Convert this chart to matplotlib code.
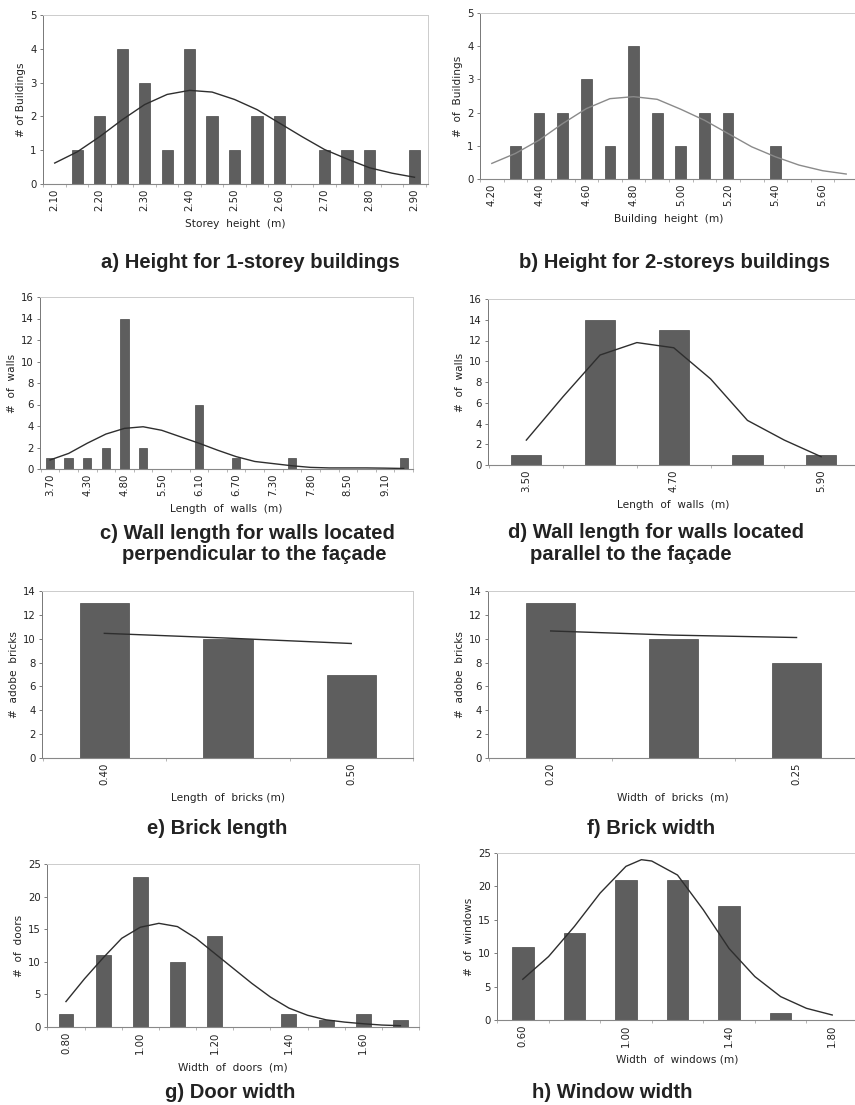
import matplotlib
matplotlib.use("Agg")
import matplotlib.pyplot as plt
import numpy as np

W, H = 855, 1105

# ---------------- data ----------------
# a) storey height, 1-storey buildings
a_cats = ["2.10", "2.15", "2.20", "2.25", "2.30", "2.35", "2.40", "2.45", "2.50",
          "2.55", "2.60", "2.65", "2.70", "2.75", "2.80", "2.85", "2.90"]
a_counts = [0, 1, 2, 4, 3, 1, 4, 2, 1, 2, 2, 0, 1, 1, 1, 0, 1]
a_fit = [0.62, 0.95, 1.4, 1.9, 2.35, 2.65, 2.77, 2.72, 2.5, 2.2, 1.8, 1.4, 1.02,
         0.74, 0.48, 0.32, 0.2]

# b) building height, 2-storey buildings
b_cats = ["4.20", "4.30", "4.40", "4.50", "4.60", "4.70", "4.80", "4.90", "5.00",
          "5.10", "5.20", "5.30", "5.40", "5.50", "5.60", "5.70"]
b_counts = [0, 1, 2, 2, 3, 1, 4, 2, 1, 2, 2, 0, 1, 0, 0, 0]
b_fit = [0.47, 0.77, 1.17, 1.67, 2.12, 2.42, 2.48, 2.4, 2.1, 1.77, 1.37, 0.97,
         0.67, 0.42, 0.25, 0.15]

# c) wall length, perpendicular walls
c_cats = ["3.70", "4.00", "4.30", "4.55", "4.80", "5.15", "5.50", "5.80", "6.10",
          "6.40", "6.70", "7.00", "7.30", "7.55", "7.80", "8.15", "8.50", "8.80",
          "9.10", "9.40"]
c_counts = [1, 1, 1, 2, 14, 2, 0, 0, 6, 0, 1, 0, 0, 1, 0, 0, 0, 0, 0, 1]
c_fit = [0.84, 1.45, 2.4, 3.25, 3.78, 3.93, 3.6, 3.0, 2.4, 1.75, 1.15, 0.7, 0.5,
         0.3, 0.15, 0.1, 0.1, 0.1, 0.08, 0.05]

# d) wall length, parallel walls
d_cats = ["3.50", "4.10", "4.70", "5.30", "5.90"]
d_counts = [1, 14, 13, 1, 1]
d_fit_pos = [0, 0.5, 1, 1.5, 2, 2.5, 3, 3.5, 4]
d_fit = [2.4, 6.6, 10.6, 11.8, 11.3, 8.3, 4.3, 2.4, 0.8]

# e) brick length
e_cats = ["0.40", "0.45", "0.50"]
e_counts = [13, 10, 7]
e_fit = [10.45, 10.05, 9.6]

# f) brick width
f_cats = ["0.20", "0.225", "0.25"]
f_counts = [13, 10, 8]
f_fit = [10.65, 10.3, 10.1]

# g) door width
g_cats = ["0.80", "0.90", "1.00", "1.10", "1.20", "1.30", "1.40", "1.50", "1.60", "1.70"]
g_counts = [2, 11, 23, 10, 14, 0, 2, 1, 2, 1]
g_fit_pos = [0, 0.5, 1, 1.5, 2, 2.5, 3, 3.5, 4, 4.5, 5, 5.5, 6, 6.5, 7, 7.5, 8, 8.5, 9]
g_fit = [3.9, 7.4, 10.6, 13.6, 15.3, 15.9, 15.4, 13.6, 11.3, 9.0, 6.7, 4.6, 2.9,
         1.8, 1.1, 0.75, 0.5, 0.3, 0.2]

# h) window width
h_cats = ["0.60", "0.80", "1.00", "1.20", "1.40", "1.60", "1.80"]
h_counts = [11, 13, 21, 21, 17, 1, 0]
h_fit_pos = [0, 0.5, 1, 1.5, 2, 2.3, 2.5, 3, 3.5, 4, 4.5, 5, 5.5, 6]
h_fit = [6.1, 9.5, 14.0, 19.0, 23.0, 24.0, 23.8, 21.7, 16.5, 10.7, 6.5, 3.5, 1.75, 0.75]

# ---------------- style ----------------
BAR = "#5e5e5e"
EDGE = "#474747"
TXT = "#222222"
TICKFS = 7.3
LABFS = 7.6
TITLEFS = 14.6
TITLEFONT = ["Liberation Sans", "DejaVu Sans"]

fig = plt.figure(figsize=(W / 100, H / 100), dpi=100)
fig.patch.set_facecolor("white")


def px_axes(left, top, right, bottom):
    return fig.add_axes([left / W, 1 - bottom / H, (right - left) / W, (bottom - top) / H])


def panel(rect, cats, counts, fit, fit_pos, width, xlim, ymax, ystep, xlabel, ylabel,
          label_every=2, line_color="#2e2e2e", lw=1.0):
    ax = px_axes(*rect)
    x = np.arange(len(cats))
    ax.bar(x, counts, width=width, color=BAR, edgecolor=EDGE, linewidth=0.5, zorder=2)
    fx = x if fit_pos is None else np.array(fit_pos)
    ax.plot(fx, fit, color=line_color, linewidth=lw, zorder=3)
    ax.set_xlim(*xlim)
    ax.set_ylim(0, ymax)
    yt = np.arange(0, ymax + 0.001, ystep)
    ax.set_yticks(yt)
    ax.set_yticklabels([f"{v:g}" for v in yt], fontsize=TICKFS, color=TXT)
    ticks = x[::label_every]
    ax.set_xticks(ticks)
    ax.set_xticklabels([cats[i] for i in ticks], rotation=90, fontsize=TICKFS,
                       color=TXT, va="top")
    ax.set_xticks(np.arange(-0.5, len(cats), 1.0), minor=True)
    ax.tick_params(axis="x", which="major", length=0, pad=3)
    ax.tick_params(axis="x", which="minor", length=2, color="#aaaaaa", width=0.6)
    ax.tick_params(axis="y", length=2.5, width=0.6, color="#666666", pad=2)
    for s in ["top", "right"]:
        ax.spines[s].set_color("#cccccc")
        ax.spines[s].set_linewidth(0.7)
    ax.spines["left"].set_color("#777777")
    ax.spines["left"].set_linewidth(0.7)
    ax.spines["bottom"].set_color("#888888")
    ax.spines["bottom"].set_linewidth(0.8)
    ax.set_xlabel(xlabel, fontsize=LABFS, color=TXT, labelpad=6)
    ax.set_ylabel(ylabel, fontsize=LABFS, color=TXT, labelpad=3)
    return ax


def title(x, y, s, ha="center"):
    fig.text(x / W, 1 - y / H, s, ha=ha, va="center", fontsize=TITLEFS,
             fontweight="bold", family=TITLEFONT, color=TXT)


# a
panel((43, 15, 428, 184), a_cats, a_counts, a_fit, None, 0.5, (-0.52, 16.6), 5, 1,
      "Storey  height  (m)", "# of Buildings")
title(250, 263, "a) Height for 1-storey buildings")

# b
panel((480, 13, 858, 179), b_cats, b_counts, b_fit, None, 0.45, (-0.49, 15.4), 5, 1,
      "Building  height  (m)", "#  of  Buildings", line_color="#8a8a8a")
title(674, 263, "b) Height for 2-storeys buildings")

# c
panel((40, 297, 413, 469), c_cats, c_counts, c_fit, None, 0.45, (-0.54, 19.5), 16, 2,
      "Length  of  walls  (m)", "#  of  walls")
title(247, 533, "c) Wall length for walls located")
title(254, 555, "perpendicular to the façade")

# d
panel((488, 299, 858, 465), d_cats, d_counts, d_fit, d_fit_pos, 0.41, (-0.52, 4.5), 16, 2,
      "Length  of  walls  (m)", "#  of  walls")
title(508, 532, "d) Wall length for walls located", ha="left")
title(530, 555, "parallel to the façade", ha="left")

# e
panel((42, 591, 413, 758), e_cats, e_counts, e_fit, None, 0.4, (-0.505, 2.49), 14, 2,
      "Length  of  bricks (m)", "#  adobe  bricks")
title(217, 828, "e) Brick length")

# f
panel((488, 591, 858, 758), f_cats, f_counts, f_fit, None, 0.4, (-0.51, 2.47), 14, 2,
      "Width  of  bricks  (m)", "#  adobe  bricks")
title(651, 828, "f) Brick width")

# g
panel((47, 864, 419, 1027), g_cats, g_counts, g_fit, g_fit_pos, 0.4, (-0.51, 9.43), 25, 5,
      "Width  of  doors  (m)", "#  of  doors")
title(230, 1092, "g) Door width")

# h
panel((497, 853, 858, 1020), h_cats, h_counts, h_fit, h_fit_pos, 0.42, (-0.5, 6.37), 25, 5,
      "Width  of  windows (m)", "#  of  windows")
title(612, 1092, "h) Window width")

fig.savefig("out.png", dpi=100, facecolor="white")
